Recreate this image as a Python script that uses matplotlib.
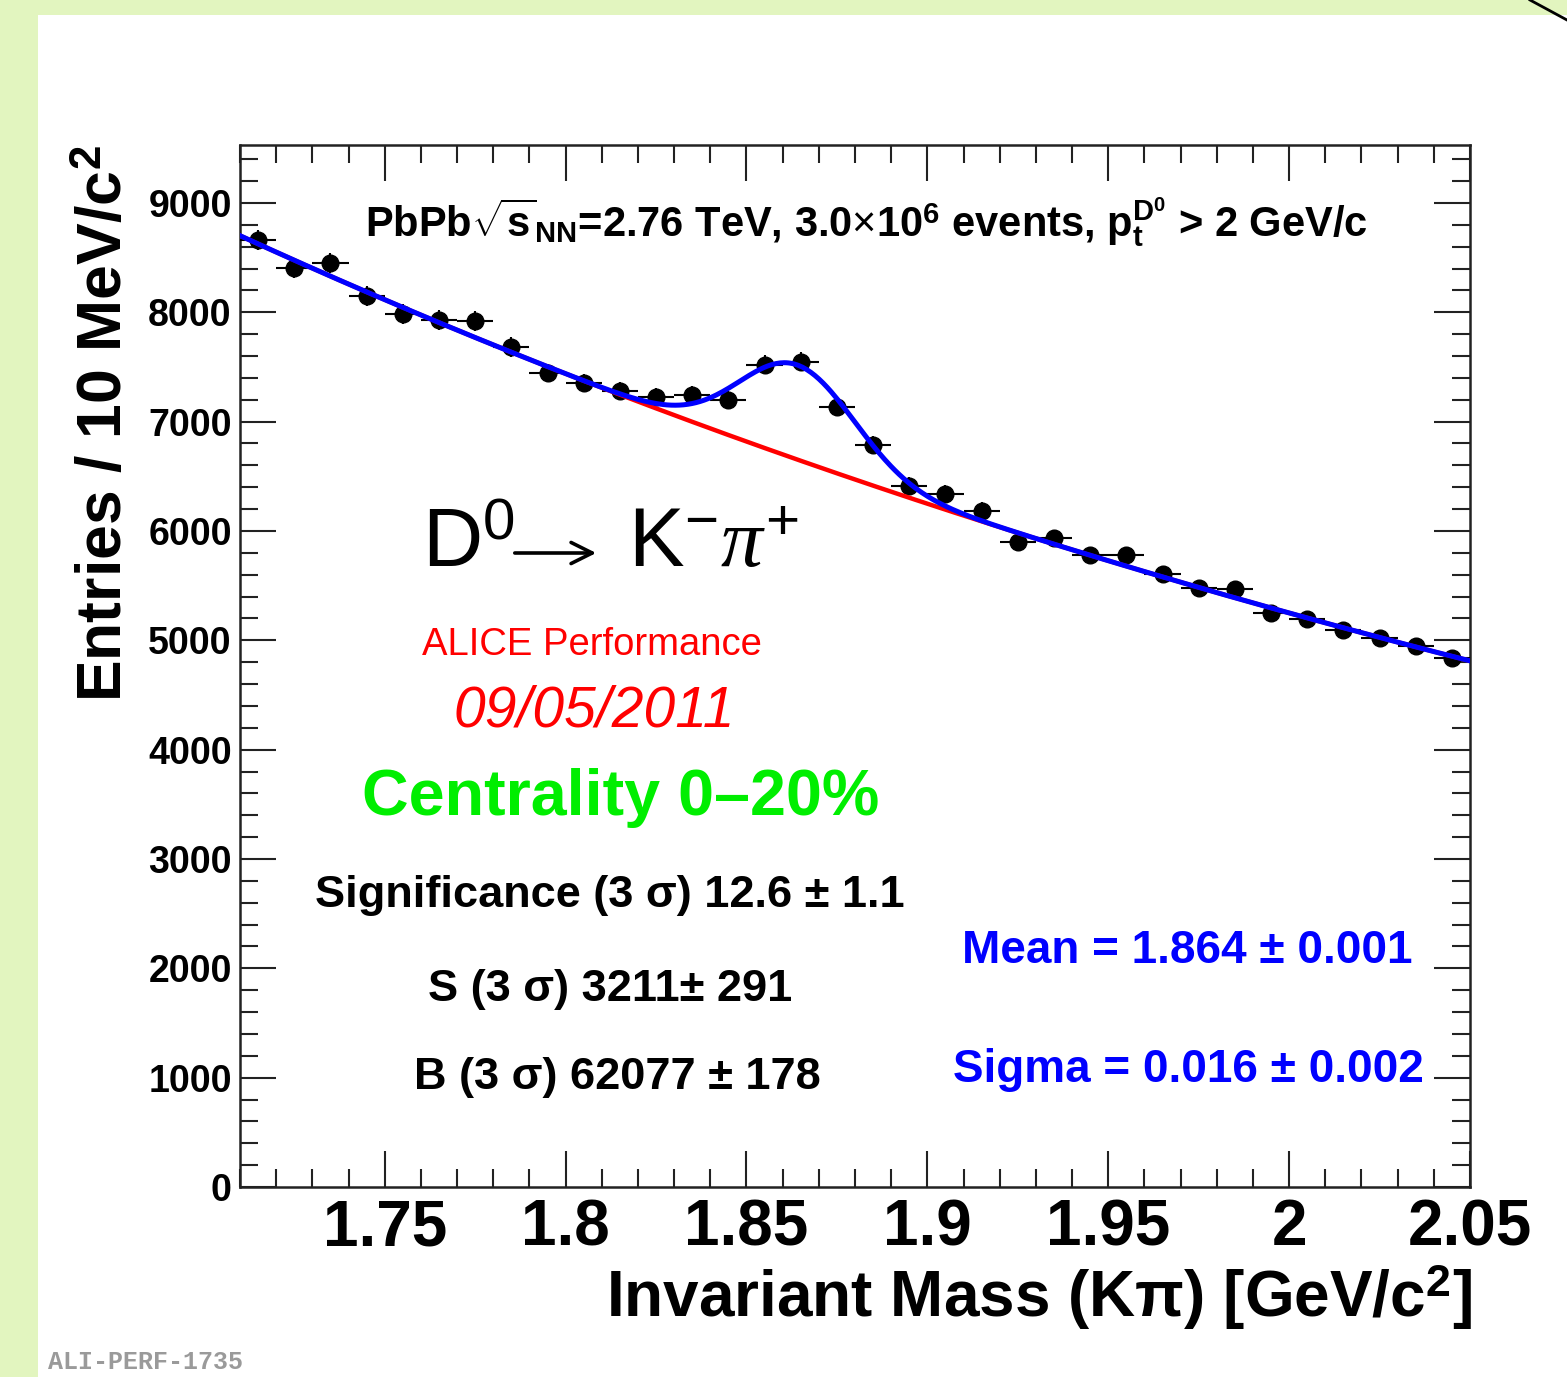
import numpy as np
import matplotlib
matplotlib.use("Agg")
import matplotlib.pyplot as plt
from matplotlib.patches import Rectangle, FancyArrowPatch
from matplotlib.lines import Line2D
from matplotlib.ticker import MultipleLocator

plt.rcParams['font.family'] = ['Liberation Sans', 'DejaVu Sans']
plt.rcParams['mathtext.fontset'] = 'custom'
plt.rcParams['mathtext.rm'] = 'Liberation Sans'
plt.rcParams['mathtext.bf'] = 'Liberation Sans:bold'
plt.rcParams['mathtext.it'] = 'Liberation Serif:italic'
plt.rcParams['mathtext.sf'] = 'Liberation Sans'

# bin centres (GeV/c^2), 10 MeV bins
mass = [1.715, 1.725, 1.735, 1.745, 1.755, 1.765, 1.775, 1.785, 1.795, 1.805,
        1.815, 1.825, 1.835, 1.845, 1.855, 1.865, 1.875, 1.885, 1.895, 1.905,
        1.915, 1.925, 1.935, 1.945, 1.955, 1.965, 1.975, 1.985, 1.995, 2.005,
        2.015, 2.025, 2.035, 2.045]
# entries per bin
entries = [8662, 8406, 8451, 8150, 7985, 7930, 7921, 7683, 7445, 7354,
           7281, 7226, 7244, 7198, 7519, 7546, 7134, 6787, 6412, 6339,
           6183, 5900, 5936, 5781, 5781, 5607, 5479, 5470, 5250, 5195,
           5095, 5021, 4948, 4839]
bin_half = 0.005

# fit parameters (expo background + gaussian)
bkg_norm = 8701.0
bkg_slope = 1.742
sig_amp = 865.0
mean = 1.864
sigma = 0.016

W, H = 1567, 1377


def fx(x):
    return x / W


def fy(y):
    return 1 - y / H


fig = plt.figure(figsize=(W / 100, H / 100), dpi=100)
fig.patch.set_facecolor('white')

# light green slide border
green = '#e2f5bf'
fig.patches.append(Rectangle((0, 0), fx(38), 1, transform=fig.transFigure,
                             facecolor=green, edgecolor='none', zorder=0))
fig.patches.append(Rectangle((0, fy(15)), 1, 1 - fy(15), transform=fig.transFigure,
                             facecolor=green, edgecolor='none', zorder=0))
fig.lines.append(Line2D([fx(1530), fx(1567)], [fy(0), fy(20)], transform=fig.transFigure,
                        color='black', lw=2))

ax = fig.add_axes([fx(240), fy(1187), fx(1470) - fx(240), fy(145) - fy(1187)])

m = np.array(mass)
n = np.array(entries, dtype=float)
ax.errorbar(m, n, xerr=bin_half, yerr=np.sqrt(n), fmt='o', color='black',
            ms=12, elinewidth=1.5, capsize=0, zorder=3)

xs = np.linspace(1.71, 2.05, 600)
bkg = bkg_norm * np.exp(-bkg_slope * (xs - 1.71))
tot = bkg + sig_amp * np.exp(-0.5 * ((xs - mean) / sigma) ** 2)
ax.plot(xs, bkg, color='#ff0000', lw=3.2, zorder=4)
ax.plot(xs, tot, color='#0000ff', lw=3.6, zorder=5)

ax.set_xlim(1.71, 2.05)
ax.set_ylim(0, 9530)
ax.xaxis.set_major_locator(MultipleLocator(0.05))
ax.xaxis.set_minor_locator(MultipleLocator(0.01))
ax.yaxis.set_major_locator(MultipleLocator(1000))
ax.yaxis.set_minor_locator(MultipleLocator(200))
ax.set_xticks([1.75, 1.8, 1.85, 1.9, 1.95, 2.0, 2.05])
ax.set_xticklabels(['1.75', '1.8', '1.85', '1.9', '1.95', '2', '2.05'])
ax.tick_params(which='both', direction='in', top=True, right=True, width=1.5, color='#222222')
ax.tick_params(which='major', length=26)
ax.tick_params(which='minor', length=13)
ax.tick_params(axis='x', which='major', labelsize=46, pad=8)
ax.tick_params(axis='y', which='major', labelsize=27, pad=6)
for lab in ax.get_xticklabels() + ax.get_yticklabels():
    lab.set_fontweight('bold')
for sp in ax.spines.values():
    sp.set_linewidth(1.8)
    sp.set_color('#222222')

# axis titles (ROOT style: flush to the axis end)
fig.text(fx(1472), fy(1297), 'Invariant Mass (Kπ) [GeV/c$^{\\mathbf{2}}$]',
         ha='right', va='center', fontsize=46, fontweight='bold')
fig.text(fx(105), fy(145), 'Entries / 10 MeV/c$^{\\mathbf{2}}$', rotation=90,
         ha='center', va='top', fontsize=45, fontweight='bold')

fig.text(fx(866), fy(222),
         'PbPb$\\sqrt{\\mathbf{s}}_{\\mathbf{NN}}$=2.76 TeV, 3.0$\\times$10$^{\\mathbf{6}}$ events, '
         'p$_{\\mathbf{t}}^{\\mathbf{D}^{\\mathbf{0}}}$ > 2 GeV/c',
         ha='center', va='center', fontsize=30, fontweight='bold')

# decay channel: D0 -> K- pi+
fig.text(fx(422), fy(545), 'D$^{\\mathrm{0}}$', ha='left', va='center', fontsize=60)
fig.patches.append(FancyArrowPatch((fx(512), fy(553)), (fx(599), fy(553)),
                                   transform=fig.transFigure, arrowstyle='->',
                                   mutation_scale=38, lw=2.6, color='black'))
fig.text(fx(628), fy(545), 'K$^{\\mathrm{-}}\\pi^{\\mathrm{+}}$', ha='left', va='center',
         fontsize=60)

fig.text(fx(592), fy(645), 'ALICE Performance', ha='center', va='center',
         fontsize=27.5, color='#ff0000')
fig.text(fx(594), fy(712), '09/05/2011', ha='center', va='center',
         fontsize=41, color='#ff0000', style='italic')
fig.text(fx(621), fy(798), 'Centrality 0–20%', ha='center', va='center',
         fontsize=46.5, color='#00ee00', fontweight='bold')

fig.text(fx(610), fy(896), 'Significance (3 σ) 12.6 ± 1.1', ha='center', va='center',
         fontsize=32.5, fontweight='bold')
fig.text(fx(610), fy(989), 'S (3 σ) 3211± 291', ha='center', va='center',
         fontsize=32.5, fontweight='bold')
fig.text(fx(617), fy(1078), 'B (3 σ) 62077 ± 178', ha='center', va='center',
         fontsize=32.5, fontweight='bold')

fig.text(fx(1187), fy(951), 'Mean = 1.864 ± 0.001', ha='center', va='center',
         fontsize=33, color='#0000ff', fontweight='bold')
fig.text(fx(1188), fy(1070), 'Sigma = 0.016 ± 0.002', ha='center', va='center',
         fontsize=33, color='#0000ff', fontweight='bold')

fig.text(fx(48), fy(1374), 'ALI-PERF-1735', ha='left', va='bottom', fontsize=18,
         color='#9a9a9a', family=['Liberation Mono', 'DejaVu Sans Mono'], fontweight='bold')

fig.savefig('out.png', dpi=100, facecolor=fig.get_facecolor())
